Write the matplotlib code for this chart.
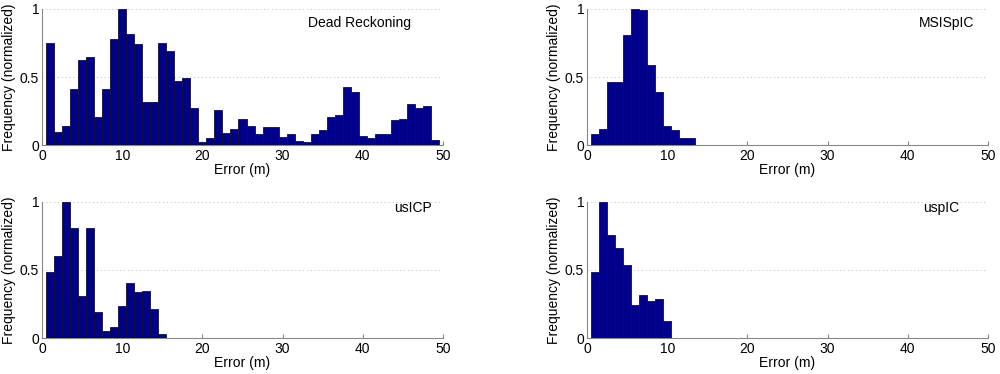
import numpy as np
import matplotlib
matplotlib.use("Agg")
import matplotlib.pyplot as plt

plt.rcParams['font.family'] = ['Liberation Sans', 'DejaVu Sans']

# bin centres (m), bin width 1
dr_bins = np.arange(1, 50)
dr_freq = [0.752, 0.093, 0.14, 0.414, 0.623, 0.647, 0.206, 0.409, 0.777, 1.0,
           0.816, 0.745, 0.314, 0.314, 0.748, 0.689, 0.473, 0.495, 0.275, 0.02,
           0.049, 0.257, 0.086, 0.12, 0.19, 0.14, 0.085, 0.13, 0.13, 0.063,
           0.085, 0.03, 0.025, 0.078, 0.11, 0.21, 0.22, 0.425, 0.387, 0.066,
           0.05, 0.078, 0.078, 0.187, 0.19, 0.30, 0.27, 0.285, 0.04]

msis_bins = np.arange(1, 14)
msis_freq = [0.085, 0.12, 0.466, 0.466, 0.81, 1.0, 0.995, 0.585, 0.39, 0.144,
             0.11, 0.049, 0.049]

usicp_bins = np.arange(1, 16)
usicp_freq = [0.483, 0.605, 1.0, 0.81, 0.305, 0.805, 0.19, 0.05, 0.083, 0.232,
              0.405, 0.337, 0.346, 0.21, 0.03]

uspic_bins = np.arange(1, 11)
uspic_freq = [0.485, 1.0, 0.752, 0.657, 0.534, 0.245, 0.319, 0.275, 0.284, 0.123]

panels = [
    ("Dead Reckoning", dr_bins, dr_freq, [0.042, 0.612, 0.401, 0.364], 39.6, 0.90),
    ("MSISpIC", msis_bins, msis_freq, [0.587, 0.612, 0.401, 0.364], 44.8, 0.90),
    ("usICP", usicp_bins, usicp_freq, [0.042, 0.096, 0.401, 0.365], 46.2, 0.95),
    ("uspIC", uspic_bins, uspic_freq, [0.587, 0.096, 0.401, 0.365], 44.2, 0.95),
]

fig = plt.figure(figsize=(10, 3.74), dpi=100)

for name, bins, freq, rect, tx, ty in panels:
    ax = fig.add_axes(rect)
    ax.bar(bins, freq, width=1.0, color='#00008b', edgecolor='#111133', linewidth=0.6, zorder=3)
    ax.set_xlim(0, 50)
    ax.set_ylim(0, 1)
    ax.set_xticks([0, 10, 20, 30, 40, 50])
    ax.set_yticks([0, 0.5, 1])
    ax.set_yticklabels(['0', '0.5', '1'])
    ax.yaxis.grid(True, linestyle=(0, (1, 3)), color='#bbbbbb', linewidth=0.7, zorder=0)
    for s in ['top', 'right']:
        ax.spines[s].set_visible(False)
    for s in ['left', 'bottom']:
        ax.spines[s].set_color('#888888')
        ax.spines[s].set_linewidth(0.8)
    ax.tick_params(axis='x', direction='in', length=3, color='#888888', labelsize=10, pad=3)
    ax.tick_params(axis='y', length=0, labelsize=10, pad=2)
    ax.set_xlabel("Error (m)", fontsize=10, labelpad=0)
    ax.set_ylabel("Frequency (normalized)", fontsize=10, labelpad=3)
    ax.text(tx, ty, name, ha='center', va='center', fontsize=10)

fig.savefig("out.png", dpi=100)
